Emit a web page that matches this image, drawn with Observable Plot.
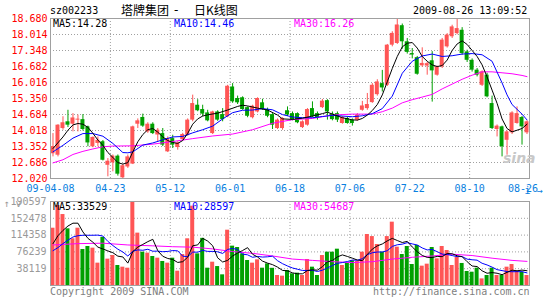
<!DOCTYPE html>
<html><head><meta charset="utf-8">
<script src="https://cdn.jsdelivr.net/npm/d3@7"></script>
<script src="https://cdn.jsdelivr.net/npm/@observablehq/plot@0.6"></script>
<style>
body{margin:0;background:#fff;}
#wrap{position:relative;width:545px;height:300px;overflow:hidden;background:#fff;font-family:"DejaVu Sans Mono",monospace;font-size:10px;}
.t{position:absolute;white-space:pre;line-height:12px;}
.cjk{font-family:"Noto Sans CJK SC",sans-serif;font-size:12px;line-height:14px;}
#wrap svg{position:absolute;left:0;background:transparent !important;overflow:visible;}
</style></head><body><div id="wrap"></div>
<script>
// ---- data ----
const stockCode = "sz002233";
const titleParts = ["塔牌集团", "-", "日K线图"];
const stamp = "2009-08-26 13:09:52";
const priceMALabels = ["MA5:14.28", "MA10:14.46", "MA30:16.26"];
const volMALabels = ["MA5:33529", "MA10:28597", "MA30:54687"];
const footerLeft = "Copyright 2009 SINA.COM";
const footerRight = "http://finance.sina.com.cn";

const yTicks = [12.020, 12.686, 13.352, 14.018, 14.684, 15.350, 16.016, 16.682, 17.348, 18.014, 18.680];
const volTicks = [38119, 76239, 114358, 152478, 190597];
const dateLabels = ["09-04-08", "04-23", "05-12", "06-01", "06-18", "07-06", "07-22", "08-10", "08-26"];
const dateTickDay = [-0.5, 11.5, 23.5, 35.5, 47.5, 59.5, 71.5, 83.5, 94.2];
const gridDays = [11.5, 23.5, 35.5, 47.5, 59.5, 71.5, 83.5];

const openP = [13.05,12.99,14.10,14.38,14.28,14.45,14.47,14.17,13.34,13.48,13.55,12.57,12.67,12.95,12.05,12.50,12.62,14.28,14.56,13.96,
14.28,13.83,13.89,13.13,13.68,13.31,13.64,13.82,14.45,15.07,14.89,14.75,13.89,14.79,14.68,14.59,15.83,15.35,15.38,14.97,
14.55,14.79,15.17,14.89,14.68,14.10,14.10,14.84,14.72,14.72,14.14,14.24,14.93,14.72,14.97,15.26,14.70,14.72,14.31,14.52,
14.45,14.45,14.86,14.93,15.18,15.51,15.97,15.90,17.57,17.64,18.38,17.71,17.22,17.05,16.71,16.70,16.92,16.32,16.67,17.50,
17.92,18.05,18.19,17.29,16.94,16.53,15.90,16.32,15.14,14.06,14.17,13.61,13.92,14.31,14.56,13.92];
const highP = [13.89,14.26,14.59,14.86,14.72,14.66,14.68,14.20,13.75,13.75,13.60,12.85,13.00,13.00,12.60,13.00,14.20,14.50,14.70,14.34,
14.34,14.10,14.10,13.75,13.82,13.55,13.90,14.50,15.49,15.30,15.07,14.86,14.82,14.84,14.93,15.90,15.97,15.45,15.42,15.00,
15.07,15.38,15.32,14.95,14.72,14.50,14.55,15.00,14.79,14.75,14.42,14.93,15.21,14.79,15.31,15.30,14.79,14.79,14.60,14.56,
14.50,14.72,15.23,15.56,15.97,16.13,16.52,17.60,18.13,18.65,18.45,17.85,17.43,17.10,17.46,16.85,17.30,16.70,17.85,18.05,
18.40,18.68,18.30,17.36,17.00,16.60,16.50,16.40,15.45,14.25,14.20,14.00,14.80,15.00,14.60,14.42];
const lowP = [12.92,12.92,14.03,14.14,13.96,13.96,14.00,13.34,13.30,13.34,12.75,12.09,12.30,12.12,12.02,12.44,12.60,14.10,14.15,13.90,
13.85,13.55,13.35,13.10,13.27,13.20,13.60,13.78,14.38,14.80,14.59,14.38,13.85,14.40,14.38,14.55,15.15,15.10,14.86,14.55,
14.50,14.75,14.86,14.55,14.06,14.06,14.03,14.60,14.42,14.30,14.10,14.20,14.55,14.45,14.93,14.45,14.42,14.35,14.28,14.28,
14.20,14.40,14.82,14.86,15.15,15.45,15.62,15.85,17.50,17.60,17.40,17.20,17.00,16.32,16.65,16.32,15.20,16.28,16.60,17.45,
17.85,18.00,17.15,16.85,16.45,16.25,15.85,15.38,14.06,13.75,12.92,12.99,13.85,14.28,13.41,13.85];
const closeP = [13.35,14.24,14.34,14.24,14.54,14.49,14.06,13.50,13.73,13.61,12.78,12.74,12.95,12.20,12.55,12.92,14.17,14.42,14.20,14.28,
13.89,14.03,13.41,13.68,13.41,13.50,13.85,14.45,15.14,14.84,14.70,14.42,14.79,14.45,14.47,15.86,15.21,15.17,14.89,14.61,
15.03,15.35,14.89,14.61,14.24,14.45,14.52,14.66,14.47,14.34,14.38,14.89,14.59,14.52,15.24,14.79,14.47,14.45,14.56,14.31,
14.31,14.66,15.04,15.10,15.90,16.04,15.79,17.57,18.06,18.41,17.71,17.27,17.16,16.36,16.81,16.80,16.50,16.67,17.78,17.99,
18.33,18.26,17.22,16.94,16.53,16.32,16.46,15.42,14.10,14.20,13.34,13.96,14.75,14.72,14.17,14.38];
const volume = [130000,181500,161000,128600,106000,130000,81700,88500,84700,50700,109000,59800,68000,45400,41600,39300,190597,118800,75600,73400,
65800,62000,54500,50700,62000,32500,70300,106000,180000,71800,107000,39300,52900,43000,24200,125500,89300,86200,71800,56700,
50700,58200,39300,49100,39000,22700,21200,34000,26500,28000,22700,59000,41600,22700,68000,75600,75600,82400,45400,50700,
56000,54500,75600,115700,111000,93000,75600,111000,143700,87000,70300,88500,47600,90800,43900,48400,86200,60500,88500,79400,
45400,63500,50000,31800,30200,39300,15000,22700,39300,22700,22700,41600,47600,32500,30200,22700];

// moving-average lines: [day, value]
const priceMA5 = [[0,13.27],[2,13.75],[3,14.03],[4,14.25],[5,14.31],[6,14.28],[7,14.15],[8,13.9],[9,13.62],[10,13.4],[11,13.1],[12,12.9],[13,12.68],[14,12.62],[15,12.68],[16,13.13],[17,13.55],[18,13.85],[19,14.05],[20,14.1],[21,13.95],[22,13.75],[23,13.6],[24,13.52],[25,13.48],[26,13.6],[27,13.9],[28,14.28],[29,14.5],[30,14.62],[31,14.67],[33,14.74],[35,14.87],[37,15.02],[38,15.07],[39,15.04],[41,14.95],[43,14.87],[45,14.66],[46,14.5],[48,14.48],[50,14.53],[52,14.62],[54,14.72],[55,14.78],[56,14.7],[58,14.55],[60,14.46],[61,14.45],[62,14.52],[63,14.66],[64,14.85],[65,15.1],[66,15.5],[67,16.05],[68,16.6],[69,17.1],[70,17.5],[71,17.65],[72,17.68],[73,17.45],[74,17.1],[75,16.9],[76,16.75],[77,16.68],[78,16.72],[79,16.95],[80,17.35],[81,17.62],[82,17.75],[83,17.6],[84,17.35],[85,17.1],[86,16.75],[87,16.25],[88,15.7],[89,15.15],[90,14.5],[91,14.1],[92,13.96],[93,14.03],[94,14.1],[95,14.28]];
const priceMA10 = [[0,13.13],[2,13.4],[4,13.7],[6,13.89],[8,13.89],[10,13.78],[12,13.48],[14,13.1],[15,13.09],[16,13.13],[18,13.41],[20,13.5],[22,13.63],[24,13.75],[26,13.77],[28,13.92],[30,14.05],[32,14.2],[34,14.5],[36,14.76],[38,14.86],[40,14.87],[42,14.93],[44,14.88],[46,14.68],[48,14.58],[50,14.55],[52,14.55],[54,14.6],[56,14.65],[58,14.62],[60,14.59],[62,14.63],[64,14.72],[66,14.93],[68,15.45],[70,16.4],[72,16.9],[74,17.12],[76,17.2],[78,17.1],[80,17.13],[82,17.2],[84,17.22],[86,17.17],[88,16.9],[90,16.0],[91,15.5],[92,15.1],[94,14.7],[95,14.46]];
const priceMA30 = [[0,12.67],[2,12.8],[4,13.02],[6,13.15],[8,13.25],[10,13.34],[12,13.37],[16,13.38],[20,13.45],[24,13.56],[28,13.68],[32,13.79],[36,13.87],[40,14.05],[44,14.32],[48,14.47],[52,14.52],[56,14.66],[60,14.7],[64,14.7],[66,14.8],[68,14.95],[70,15.17],[72,15.3],[74,15.41],[76,15.52],[78,15.75],[80,15.95],[82,16.15],[84,16.32],[86,16.46],[88,16.46],[90,16.42],[92,16.38],[94,16.31],[95,16.26]];

// volume moving averages, thousands of shares, one per day
const volMA5k = [95,113,125,135,141.4,141.4,121.5,107,98.2,87.1,82.9,78.5,74.4,66.6,64.8,50.8,77,87.1,93.2,99.5,
104.8,79.1,66.3,61.3,59,52.3,54,64.3,90.2,92.1,107,100.8,90.2,62.8,53.3,57,67,73.6,79.4,85.9,
70.9,64.7,55.3,50.8,47.3,41.7,34.3,33.2,28.7,26.5,26.5,34,35.6,34.8,42.8,53.4,56.7,64.9,69.4,65.9,
62,57.8,56.4,70.5,82.6,90,94.2,101.3,106.9,102.1,97.5,100.1,87.4,76.8,68.2,63.8,63.4,66,65.5,72.6,
72,67.5,65.4,54,44.2,43,33.3,27.8,29.3,27.8,24.5,29.8,34.8,33.4,34.9,33.5];
const volMA10k = [79,86,95,103,110,113,114,114,114,114.3,112.2,100,90.7,82.4,76,66.9,77.8,80.8,79.9,82.2,
77.8,78,76.7,77.3,79.3,78.6,66.6,65.3,75.8,75.6,79.7,77.4,77.3,76.5,72.7,82,83.9,81.9,71.1,69.6,
64,65.9,64.5,65.1,66.6,56.3,49.5,44.3,39.8,36.9,34.1,34.2,34.4,31.8,34.7,40,45.4,50.3,52.1,54.4,
57.7,57.3,60.7,70,74.3,76,76,78.9,88.7,92.4,93.8,97.2,94.4,91.9,85.2,80.7,81.8,76.7,71.2,70.4,
67.9,65.5,65.7,59.8,58.4,57.5,50.4,46.6,41.7,36,33.8,31.6,31.3,31.4,31.4,28.6];
const volMA30k = [[0,92],[5,95],[10,96],[15,92],[20,90],[24,88],[28,87],[32,83],[36,77],[40,73],[44,67],[48,60],[52,57],[56,54],[60,52],[64,54],[68,60],[72,64],[76,67],[80,71],[84,68],[88,62],[92,57],[95,54.7]];

// ---- drawing ----
const RED = "#ff5555", GREEN = "#00a000", GRID = "#a0a0a0";
const candles = openP.map((o, i) => ({i, o, h: highP[i], l: lowP[i], c: closeP[i], v: volume[i], col: closeP[i] >= openP[i] ? RED : GREEN}));
const vma5 = volMA5k.map((v, i) => [i, v * 1000]);
const vma10 = volMA10k.map((v, i) => [i, v * 1000]);
const vma30 = volMA30k.map(([d, v]) => [d, v * 1000]);
const style = {fontFamily: "DejaVu Sans Mono, monospace", fontSize: "10px", background: "transparent", overflow: "visible"};
const xDom = [-0.5, 95.5];
const lineOpts = (stroke) => ({x: d => d[0], y: d => d[1], stroke, strokeWidth: 1, curve: "linear"});

const pricePlot = Plot.plot({
  width: 545, height: 196, marginLeft: 50, marginRight: 16, marginTop: 18, marginBottom: 18,
  style, color: {type: "identity"},
  x: {domain: xDom, axis: null},
  y: {domain: [yTicks[0], yTicks[yTicks.length - 1]], axis: null},
  marks: [
    Plot.ruleY(yTicks.slice(1, -1), {stroke: GRID, strokeDasharray: "1,2"}),
    Plot.ruleX(gridDays, {stroke: GRID, strokeDasharray: "1,2"}),
    Plot.ruleX(candles, {x: "i", y1: "l", y2: "h", stroke: "col"}),
    Plot.rect(candles, {x1: d => d.i - 0.4, x2: d => d.i + 0.4, y1: "o", y2: "c", fill: "col"}),
    Plot.line(priceMA30, lineOpts("#ff00ff")),
    Plot.line(priceMA10, lineOpts("#0000ff")),
    Plot.line(priceMA5, lineOpts("#000000")),
    Plot.frame({stroke: GRID}),
    Plot.axisY(yTicks, {tickSize: 0, tickPadding: 3, tickFormat: d3.format(".3f"), fill: "#ff0000"}),
    Plot.axisX(dateTickDay, {tickSize: 0, tickPadding: 6, tickFormat: (d, i) => dateLabels[i], fill: "#0a80e0"})
  ]
});
pricePlot.style.top = "0px";

const volPlot = Plot.plot({
  width: 545, height: 104, marginLeft: 50, marginRight: 16, marginTop: 5, marginBottom: 15,
  style, color: {type: "identity"},
  x: {domain: xDom, axis: null},
  y: {domain: [0, volTicks[volTicks.length - 1]], axis: null},
  marks: [
    Plot.ruleY(volTicks.slice(0, -1), {stroke: GRID, strokeDasharray: "1,2"}),
    Plot.ruleX(gridDays, {stroke: GRID, strokeDasharray: "1,2"}),
    Plot.rectY(candles, {x1: d => d.i - 0.4, x2: d => d.i + 0.4, y: "v", fill: "col"}),
    Plot.line(vma30, lineOpts("#ff00ff")),
    Plot.line(vma10, lineOpts("#0000ff")),
    Plot.line(vma5, lineOpts("#000000")),
    Plot.frame({stroke: GRID}),
    Plot.axisY(volTicks, {tickSize: 0, tickPadding: 4, tickFormat: d => String(d), fill: "#999999"})
  ]
});
volPlot.style.top = "196px";

const wrap = document.getElementById("wrap");
wrap.appendChild(pricePlot);
wrap.appendChild(volPlot);

function addText(txt, left, top, color, cls) {
  const d = document.createElement("div");
  d.className = "t" + (cls ? " " + cls : "");
  d.textContent = txt;
  d.style.left = left + "px";
  d.style.top = top + "px";
  d.style.color = color;
  wrap.appendChild(d);
  return d;
}
addText(stockCode, 50, 5, "#000");
addText(titleParts[0], 121, 3, "#000", "cjk");
const dash = addText(titleParts[1], 174, 3, "#000", "cjk");
dash.style.fontFamily = "DejaVu Sans, sans-serif";
addText(titleParts[2], 194, 3, "#000", "cjk");
addText(stamp, 413, 5, "#000");
const maColors = ["#000000", "#0000ff", "#ff00ff"];
const maLeft = [53, 174, 294];
priceMALabels.forEach((s, k) => addText(s, maLeft[k], 18, maColors[k]));
volMALabels.forEach((s, k) => addText(s, maLeft[k], 201, maColors[k]));
addText(footerLeft, 50, 286, "#808080");
addText(footerRight, 373, 286, "#808080");
const logo = addText("sina", 503, 152, "#c8c8c8");
logo.style.fontFamily = "DejaVu Sans, sans-serif";
logo.style.fontWeight = "bold";
logo.style.fontStyle = "italic";
logo.style.fontSize = "14px";
</script></body></html>
